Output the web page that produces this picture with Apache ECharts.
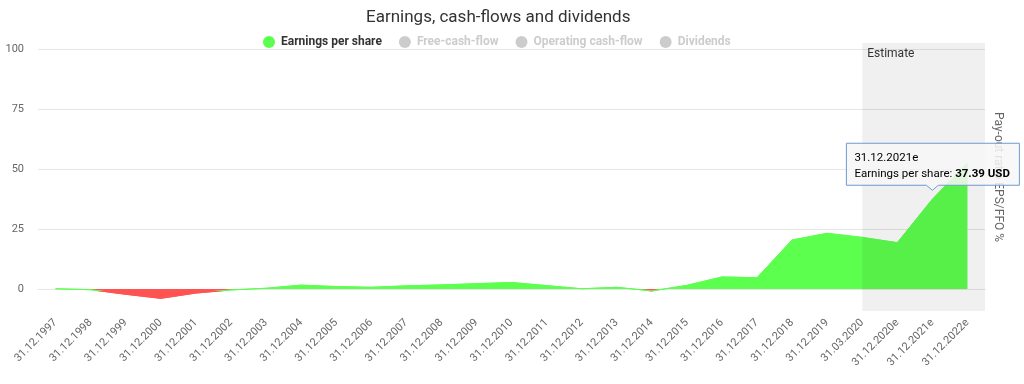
<!DOCTYPE html>
<html>
<head>
<meta charset="utf-8">
<script src="https://cdn.jsdelivr.net/npm/echarts@6/dist/echarts.min.js"></script>
<style>html,body{margin:0;padding:0;background:#fff}#c{width:1024px;height:384px}</style>
</head>
<body>
<div id="c"></div>
<script>
const categories = ['31.12.1997','31.12.1998','31.12.1999','31.12.2000','31.12.2001','31.12.2002','31.12.2003','31.12.2004','31.12.2005','31.12.2006','31.12.2007','31.12.2008','31.12.2009','31.12.2010','31.12.2011','31.12.2012','31.12.2013','31.12.2014','31.12.2015','31.12.2016','31.12.2017','31.12.2018','31.12.2019','31.03.2020','31.12.2020e','31.12.2021e','31.12.2022e'];
const earningsPerShare = [0.1,-0.3,-2.2,-3.9,-1.7,-0.4,0.3,1.6,1.0,0.7,1.3,1.7,2.2,2.7,1.4,0.1,0.7,-0.8,1.5,5.0,4.7,20.4,23.2,21.5,19.3,37.39,52.5];
const yTickValues = [0,25,50,75,100];
const legendNames = ['Earnings per share','Free-cash-flow','Operating cash-flow','Dividends'];
const estimateStart = 23;   // index of 31.03.2020
const tooltipIndex = 25;    // 31.12.2021e
const unit = 'USD';

const FONT = 'Roboto, "Noto Sans", sans-serif';
const POS = '#5cff4d', NEG = '#ff5252';
// hard-stop gradient at the zero line (fraction within the area's bounding box)
const dMax = Math.max(0, ...earningsPerShare), dMin = Math.min(0, ...earningsPerShare);
const f = dMax / (dMax - dMin);
const signGradient = new echarts.graphic.LinearGradient(0, 0, 0, 1, [
  {offset: 0, color: POS}, {offset: f, color: POS}, {offset: f, color: NEG}, {offset: 1, color: NEG}
]);

const chart = echarts.init(document.getElementById('c'), null, {renderer:'canvas'});
const option = {
  animation: false,
  textStyle: {fontFamily: FONT},
  title: {
    text: 'Earnings, cash-flows and dividends',
    left: 361, top: 4,
    textStyle: {fontSize: 17, fontWeight: 'normal', color: '#333', fontFamily: FONT}
  },
  legend: {
    data: legendNames,
    left: 258, top: 31,
    icon: 'circle', itemWidth: 14, itemHeight: 12, itemGap: 17,
    selected: {'Free-cash-flow': false, 'Operating cash-flow': false, 'Dividends': false},
    inactiveColor: '#cccccc',
    textStyle: {fontSize: 12, fontWeight: 'bold', color: '#333', fontFamily: FONT}
  },
  grid: {left: 38, right: 39, top: 43, bottom: 73, containLabel: false},
  xAxis: [{
    type: 'category', data: categories, boundaryGap: true,
    axisLine: {lineStyle: {color: '#ccd6eb'}},
    axisTick: {show: false},
    axisLabel: {rotate: 45, interval: 0, fontSize: 11, color: '#666', margin: 10, fontFamily: FONT}
  }, {
    type: 'value', min: -0.5, max: categories.length - 0.5, show: false
  }],
  yAxis: [{
    type: 'value', min: -9.17, max: 102.5,
    axisLine: {show: false}, axisTick: {show: false}, splitLine: {show: false},
    axisLabel: {customValues: yTickValues, fontSize: 11, color: '#666', margin: 14, fontFamily: FONT}
  }, {
    type: 'value', position: 'right', min: 0, max: 1,
    axisLine: {show: false}, axisTick: {show: false}, splitLine: {show: false}, axisLabel: {show: false},
    name: 'Pay-out ratio EPS/FFO %', nameLocation: 'middle', nameRotate: -90, nameGap: 7,
    nameTextStyle: {fontSize: 12, color: '#666', fontFamily: FONT}
  }],
  series: [{
    name: 'Earnings per share', type: 'line', data: earningsPerShare,
    showSymbol: false, symbol: 'circle', z: 3,
    itemStyle: {color: POS},
    lineStyle: {width: 1, color: signGradient},
    areaStyle: {opacity: 1, color: signGradient},
    markLine: {
      z: 1, silent: true, symbol: ['none','none'], animation: false,
      label: {show: false},
      lineStyle: {color: '#e6e6e6', width: 1, type: 'solid'},
      data: yTickValues.map(v => ({yAxis: v}))
    }
  }, {
    name: 'Free-cash-flow', type: 'line', data: [], color: '#cccccc'
  }, {
    name: 'Operating cash-flow', type: 'line', data: [], color: '#cccccc'
  }, {
    name: 'Dividends', type: 'line', data: [], color: '#cccccc'
  }, {
    name: 'estimate', type: 'line', xAxisIndex: 1, data: [], silent: true, z: 5,
    markArea: {
      z: 5, silent: true,
      itemStyle: {color: 'rgba(0,0,0,0.06)'},
      label: {show: true, position: 'insideTopLeft', distance: 5, color: '#333', fontSize: 12, fontFamily: FONT},
      data: [[{name: 'Estimate', xAxis: estimateStart}, {xAxis: categories.length - 0.5}]]
    }
  }]
};
chart.setOption(option);

const p = chart.convertToPixel({xAxisIndex: 0, yAxisIndex: 0}, [categories[tooltipIndex], earningsPerShare[tooltipIndex]]);
const tipX = p[0], tipY = p[1] - 9;
const bw = 173, bh = 42;
const L = tipX - 86, R = L + bw, B = tipY - 5, T = B - bh;
chart.setOption({
  graphic: [{
    type: 'polygon', z: 100,
    shape: {points: [[L,T],[R,T],[R,B],[tipX+6,B],[tipX,tipY],[tipX-6,B],[L,B]]},
    style: {fill: 'rgba(247,247,247,0.85)', stroke: '#6e9bcf', lineWidth: 1}
  }, {
    type: 'text', z: 101, x: L + 8, y: T + 7,
    style: {
      text: '{a|' + categories[tooltipIndex] + '}\n{a|Earnings per share: }{b|' + earningsPerShare[tooltipIndex].toFixed(2) + ' ' + unit + '}',
      rich: {
        a: {fontSize: 11.5, color: '#333', fontFamily: FONT, lineHeight: 16},
        b: {fontSize: 11.5, color: '#333', fontWeight: 'bold', fontFamily: FONT, lineHeight: 16}
      }
    }
  }]
});
</script>
</body>
</html>
